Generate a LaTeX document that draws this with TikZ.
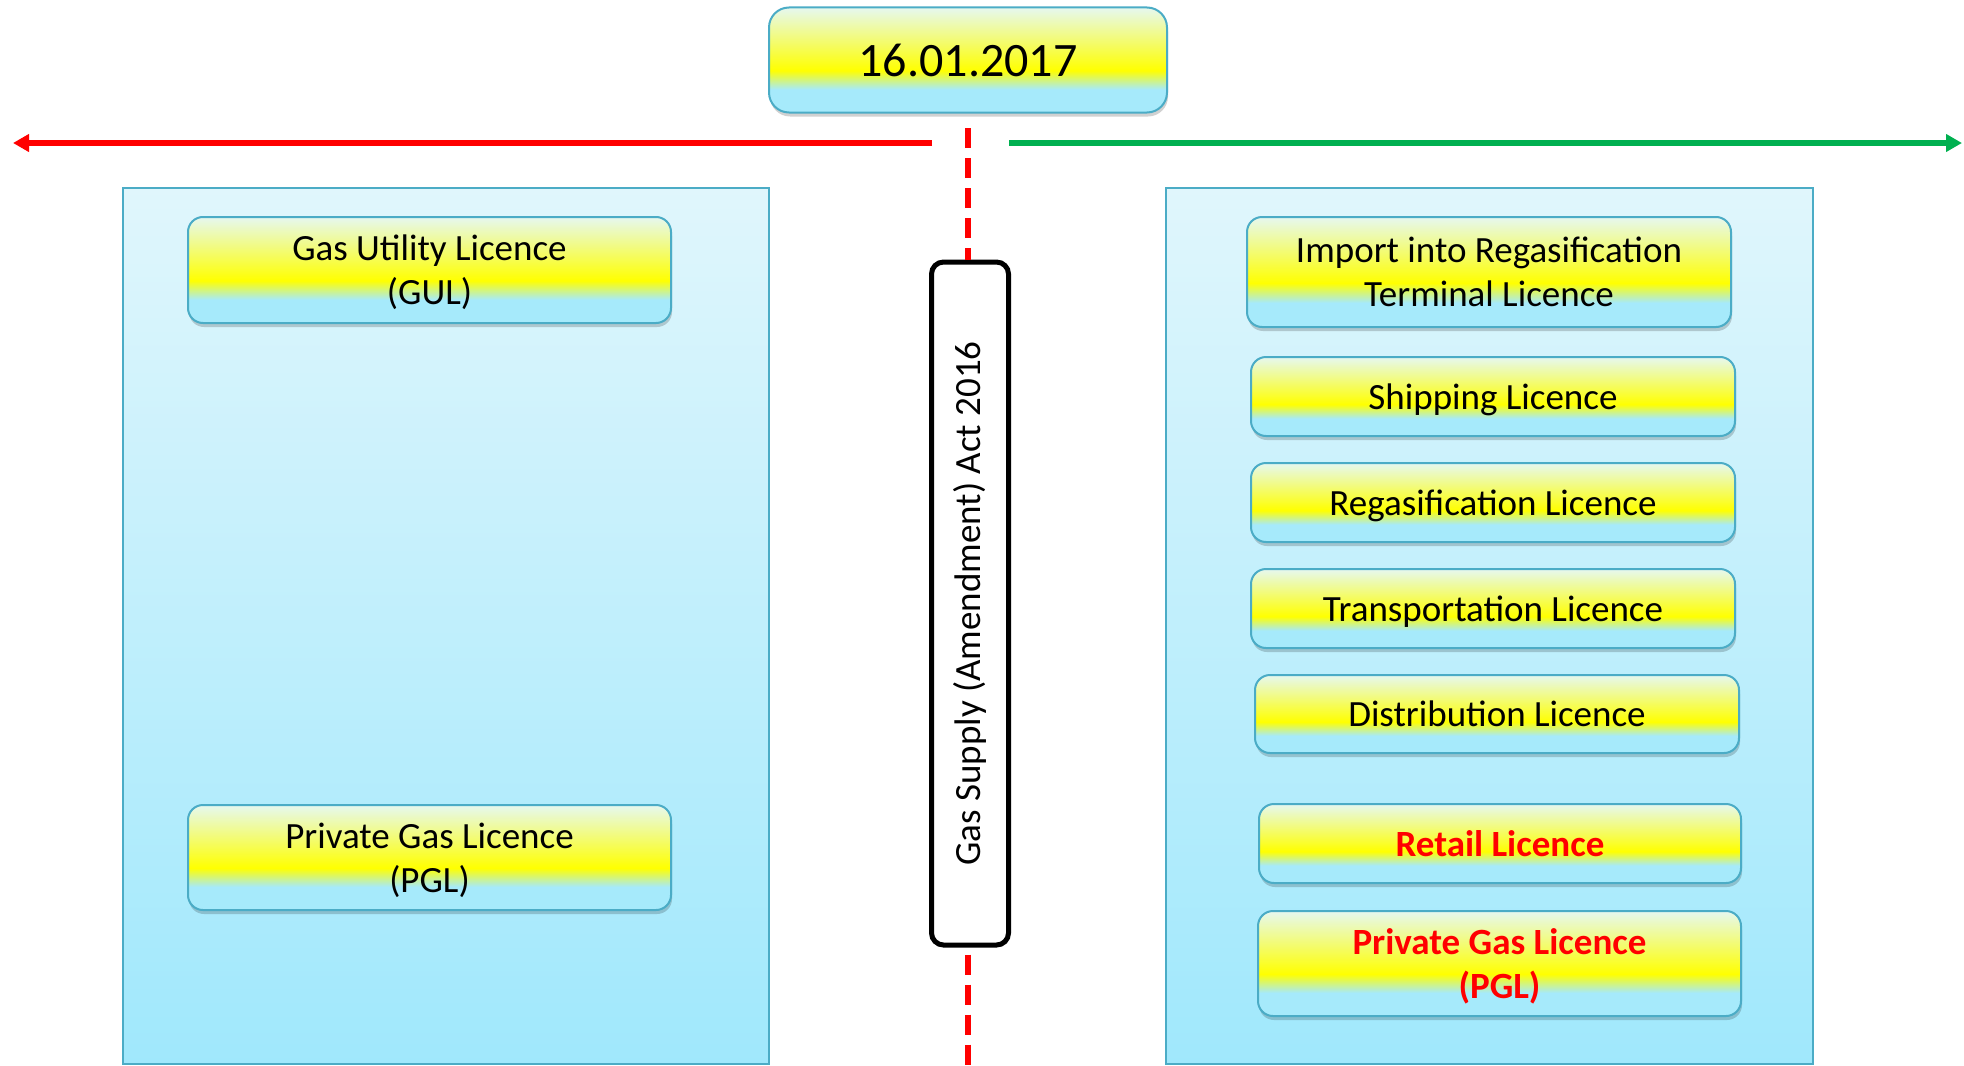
\documentclass[tikz,border=0pt]{standalone}
\usepackage{fontspec}
\setmainfont{Carlito}
\usetikzlibrary{arrows.meta,shadows}
\definecolor{licP}{HTML}{E6F8F0}
\definecolor{licY}{HTML}{FFFF00}
\definecolor{licC}{HTML}{A6EAFB}
\definecolor{panT}{HTML}{E0F6FC}
\definecolor{panB}{HTML}{A0E8FC}
\definecolor{edgeC}{HTML}{4BACC6}
\definecolor{redA}{HTML}{FF0000}
\definecolor{greenA}{HTML}{00B050}
\pgfdeclareverticalshading{licshade}{100bp}{color(0bp)=(licC); color(25bp)=(licC); color(36bp)=(licC); color(45bp)=(licY); color(75bp)=(licP); color(100bp)=(licP)}
\tikzset{
  licbox/.style={draw=edgeC, line width=2pt, rounded corners=15pt, shade, shading=licshade,
    inner sep=0pt, align=center, font=\fontsize{37}{44}\selectfont, text depth=0pt,
    drop shadow={shadow xshift=1pt, shadow yshift=-4pt, opacity=0.18, fill=black}},
  redtext/.style={text=redA, font=\fontsize{37}{44}\selectfont\bfseries},
  panelbox/.style={draw=edgeC, line width=2pt, top color=panT, bottom color=panB, inner sep=0pt},
  actbox/.style={draw=black, line width=5pt, rounded corners=12pt, fill=white, inner sep=0pt,
    font=\fontsize{37}{44}\selectfont},
  dashline/.style={draw=redA, line width=6pt, dash pattern=on 20pt off 10pt},
  leftarrow/.style={draw=redA, line width=6pt, -{Triangle[length=16pt,width=17pt]}},
  rightarrow/.style={draw=greenA, line width=6pt, -{Triangle[length=16pt,width=17pt]}}
}
\begin{document}
\begin{tikzpicture}[x=1pt,y=-1pt]
\useasboundingbox (0,0) rectangle (1964,1065);
% panels
\node[panelbox, minimum width=646pt, minimum height=876pt] (lpanel) at (446,626) {};
\node[panelbox, minimum width=647pt, minimum height=876pt] (rpanel) at (1489.5,626) {};
% date
\node[licbox, rounded corners=20pt, minimum width=398pt, minimum height=105pt,
  font=\fontsize{48}{56}\selectfont] (date) at (968,60) {16.01.2017};
% arrows
\coordinate (rs) at (932,143);
\coordinate (re) at (13,143);
\coordinate (gs) at (1009,143);
\coordinate (ge) at (1962,143);
\draw[leftarrow] (rs) -- (re);
\draw[rightarrow] (gs) -- (ge);
% act box
\node[actbox, rotate=90, minimum width=683pt, minimum height=77pt] (act) at (970,603.5)
  {Gas Supply (Amendment) Act 2016};
\coordinate (dtop) at (968,128);
\coordinate (dbot) at (968,1065);
\draw[dashline] (dtop) -- (dtop |- act.east);
\draw[dashline] (dbot |- act.west) ++(0,7) -- (dbot);
% left boxes
\node[licbox, minimum width=483pt, minimum height=106pt] (gul) at (429.5,270)
  {Gas Utility Licence\\(GUL)};
\node[licbox, minimum width=483pt, minimum height=105pt] (pgl1) at (429.5,857.5)
  {Private Gas Licence\\(PGL)};
% right boxes
\node[licbox, minimum width=484pt, minimum height=110pt] (imp) at (1489,272)
  {Import into Regasification\\Terminal Licence};
\node[licbox, minimum width=484pt, minimum height=79pt] (ship) at (1493,396.5)
  {Shipping Licence};
\node[licbox, minimum width=484pt, minimum height=79pt] (regas) at (1493,502.5)
  {Regasification Licence};
\node[licbox, minimum width=484pt, minimum height=79pt] (trans) at (1493,608.5)
  {Transportation Licence};
\node[licbox, minimum width=484pt, minimum height=78pt] (dist) at (1497,714)
  {Distribution Licence};
\node[licbox, redtext, minimum width=482pt, minimum height=79pt] (retail) at (1500,843.5)
  {Retail Licence};
\node[licbox, redtext, minimum width=483pt, minimum height=105pt] (pgl2) at (1499.5,963.5)
  {Private Gas Licence\\(PGL)};
\end{tikzpicture}
\end{document}
